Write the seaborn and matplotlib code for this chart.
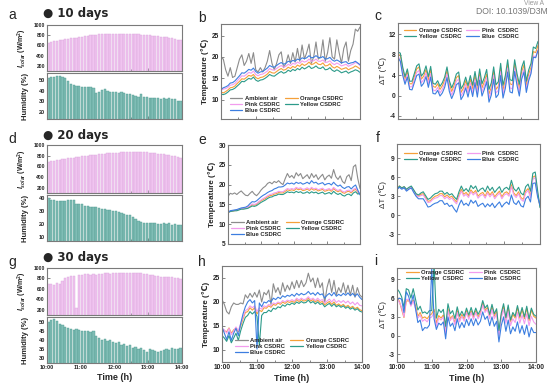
import matplotlib
matplotlib.use("Agg")
import matplotlib.pyplot as plt
from matplotlib.lines import Line2D
import numpy as np
import seaborn as sns

sns.set_theme(style="white")
plt.rcParams["font.family"] = ["Liberation Sans", "DejaVu Sans"]
plt.rcParams["mathtext.fontset"] = "custom"
plt.rcParams["mathtext.rm"] = "Liberation Sans:bold"
plt.rcParams["mathtext.it"] = "Liberation Sans:italic:bold"
plt.rcParams["mathtext.bf"] = "Liberation Sans:bold"

# ---------------- data ----------------
# time stamps (h): lines every 4 min, bars every 5 min
t_line = np.linspace(10, 14, 61)
t_bar = 10 + (np.arange(48) + 0.5) / 12
hour_labels = ["10:00", "11:00", "12:00", "13:00", "14:00"]

# 10 days
solar_10 = [640, 665, 680, 690, 700, 712, 722, 732, 740, 748, 755, 762, 770, 778, 790, 800,
            808, 812, 815, 816, 818, 820, 822, 825, 825, 822, 820, 818, 815, 815, 818, 820,
            815, 810, 805, 800, 795, 790, 785, 780, 772, 765, 758, 750, 740, 728, 715, 700]
hum_10 = [51, 52, 52.5, 53, 53, 52.5, 51.5, 49, 46, 45, 44, 44.5, 43.5, 43.5, 43, 43,
          42, 38, 39, 40.5, 41, 40, 39, 38.5, 39, 38, 38.5, 37.5, 37, 36.5, 36, 35,
          34.5, 36.5, 34, 34, 33, 33.5, 33, 33, 32.5, 33, 32, 33, 32, 32.5, 30.5, 30]
amb_10 = [19.8, 19.5, 17.0, 15.5, 17.5, 15.2, 15.5, 17.5, 19.5, 20.5,
          18.0, 19.0, 20.8, 18.5, 21.0, 17.0, 16.5, 17.5, 16.5, 17.5,
          19.0, 21.5, 18.5, 17.0, 18.5, 20.5, 21.2, 17.5, 18.5, 20.5,
          18.5, 21.0, 18.8, 22.0, 19.0, 22.8, 19.5, 21.0, 23.0, 18.5,
          20.0, 23.5, 19.5, 20.0, 24.0, 19.0, 21.0, 24.5, 20.0, 19.5,
          24.0, 21.0, 18.5, 22.0, 23.5, 19.0, 21.5, 23.0, 26.5, 26.0,
          27.0]
blue_10 = [12.4, 12.8, 13.0, 13.3, 13.9, 14.0, 14.4, 15.0, 15.6, 16.3,
           16.2, 16.6, 17.1, 16.9, 17.4, 16.6, 16.2, 16.5, 16.6, 17.0,
           17.4, 18.0, 17.7, 17.6, 18.0, 18.4, 18.7, 18.3, 18.5, 19.0,
           18.8, 19.2, 19.0, 19.5, 19.3, 19.8, 19.6, 19.8, 20.3, 19.8,
           19.9, 20.3, 19.9, 19.8, 20.1, 19.5, 19.6, 19.9, 19.3, 19.0,
           19.3, 19.0, 18.6, 18.8, 18.9, 18.4, 18.6, 18.7, 19.0, 18.6,
           18.2]
pink_10 = [12.2, 12.5, 12.6, 12.9, 13.4, 13.5, 13.8, 14.4, 15.0, 15.6,
           15.5, 15.9, 16.4, 16.2, 16.7, 15.9, 15.6, 15.9, 16.0, 16.3,
           16.7, 17.3, 17.0, 16.9, 17.3, 17.7, 18.0, 17.6, 17.8, 18.3,
           18.0, 18.5, 18.3, 18.8, 18.5, 19.1, 18.8, 19.0, 19.5, 19.0,
           19.1, 19.5, 19.0, 19.0, 19.3, 18.7, 18.8, 19.1, 18.5, 18.2,
           18.6, 18.3, 17.9, 18.1, 18.3, 17.8, 18.1, 18.3, 18.7, 18.5,
           18.0]
orange_10 = [11.8, 11.6, 11.9, 12.3, 12.8, 12.9, 13.2, 13.8, 14.3, 14.9,
             14.8, 15.2, 15.7, 15.5, 15.9, 15.2, 14.9, 15.2, 15.3, 15.6,
             16.0, 16.6, 16.3, 16.2, 16.6, 17.0, 17.3, 16.9, 17.1, 17.6,
             17.3, 17.8, 17.5, 18.1, 17.8, 18.4, 18.0, 18.3, 18.8, 18.2,
             18.4, 18.8, 18.3, 18.2, 18.6, 17.9, 18.0, 18.4, 17.7, 17.4,
             17.8, 17.5, 17.1, 17.3, 17.5, 17.0, 17.3, 17.5, 17.9, 17.6,
             17.2]
yellow_10 = [11.3, 11.2, 11.4, 11.8, 12.3, 12.4, 12.7, 13.2, 13.7, 14.3,
             14.2, 14.6, 15.0, 14.8, 15.3, 14.6, 14.3, 14.6, 14.7, 15.0,
             15.4, 15.9, 15.6, 15.5, 15.9, 16.3, 16.6, 16.2, 16.4, 16.9,
             16.6, 17.1, 16.8, 17.3, 17.0, 17.6, 17.2, 17.5, 17.9, 17.3,
             17.5, 17.9, 17.4, 17.3, 17.7, 17.0, 17.1, 17.5, 16.9, 16.6,
             17.0, 16.7, 16.3, 16.5, 16.7, 16.2, 16.5, 16.7, 17.0, 16.8,
             16.4]

# 20 days
solar_20 = [690, 695, 705, 715, 722, 730, 740, 750, 758, 765, 772, 780, 788, 795, 800, 808,
            815, 820, 828, 835, 840, 845, 850, 852, 855, 858, 862, 870, 878, 875, 872, 872,
            870, 868, 865, 860, 855, 850, 845, 840, 832, 825, 815, 805, 795, 785, 770, 755]
hum_20 = [40, 38.5, 38, 37.5, 37.5, 37.5, 37.5, 38, 38.5, 38.5, 35, 35.5, 35, 34, 33.5, 33,
          33, 32.5, 32, 31.5, 31, 30.5, 30.5, 30, 29.5, 29, 28.5, 27.5, 27, 26.5, 25, 23.5,
          22, 21.5, 21, 21, 21, 20.5, 20.5, 20, 20, 20.5, 20, 20.5, 19.5, 20, 19.5, 19.5]
amb_20 = [17.0, 17.8, 17.6, 17.9, 17.5, 18.0, 18.4, 17.8, 17.3, 17.2,
          17.8, 18.3, 17.6, 17.2, 17.8, 18.6, 19.2, 19.6, 20.3, 20.6,
          20.2, 20.8, 20.5, 21.0, 20.4, 20.0, 21.5, 22.8, 21.8, 22.3,
          21.6, 23.0, 22.2, 22.8, 21.5, 22.0, 22.5, 21.5, 22.8, 21.8,
          22.5, 21.3, 22.0, 22.6, 21.2, 22.0, 22.4, 21.6, 23.8, 22.0,
          21.3, 22.2, 20.8, 20.3, 22.0, 22.5, 21.0, 24.5, 25.0, 21.5,
          19.0]
blue_20 = [12.9, 13.4, 13.5, 13.6, 13.7, 13.9, 14.1, 14.2, 14.3, 14.6,
           15.2, 15.7, 15.6, 15.9, 16.4, 16.9, 17.3, 17.6, 18.0, 18.3,
           18.5, 18.9, 19.1, 19.4, 19.4, 19.5, 19.9, 20.4, 20.2, 20.4,
           20.1, 20.6, 20.3, 20.5, 20.1, 20.3, 20.6, 20.2, 21.0, 20.4,
           20.6, 20.1, 20.3, 20.5, 19.9, 20.2, 20.3, 19.9, 20.6, 20.0,
           19.6, 19.9, 19.3, 19.0, 19.4, 19.5, 18.9, 19.5, 19.9, 18.6,
           17.4]
pink_20 = [13.0, 13.3, 13.4, 13.5, 13.6, 13.8, 14.0, 14.0, 14.1, 14.3,
           14.7, 15.1, 15.0, 15.2, 15.7, 16.1, 16.5, 16.8, 17.2, 17.5,
           17.6, 17.9, 18.0, 18.3, 18.2, 18.2, 18.6, 19.0, 18.8, 19.0,
           18.8, 19.3, 19.0, 19.2, 18.8, 18.9, 19.2, 18.8, 19.3, 18.9,
           19.1, 18.7, 18.9, 19.1, 18.6, 18.8, 19.0, 18.6, 19.3, 18.8,
           18.5, 18.8, 18.3, 18.1, 18.5, 18.6, 18.2, 18.8, 19.1, 18.3,
           17.5]
orange_20 = [12.9, 13.2, 13.3, 13.4, 13.5, 13.7, 13.9, 13.9, 14.0, 14.2,
             14.5, 14.9, 14.8, 15.0, 15.5, 15.9, 16.2, 16.5, 16.9, 17.2,
             17.3, 17.6, 17.7, 18.0, 17.9, 17.9, 18.3, 18.7, 18.5, 18.7,
             18.5, 19.0, 18.7, 18.9, 18.5, 18.6, 18.9, 18.5, 19.0, 18.6,
             18.8, 18.4, 18.6, 18.8, 18.3, 18.5, 18.7, 18.3, 19.0, 18.5,
             18.2, 18.5, 18.0, 17.8, 18.2, 18.3, 17.9, 18.5, 18.8, 18.1,
             17.6]
yellow_20 = [13.0, 13.2, 13.3, 13.4, 13.4, 13.6, 13.8, 13.8, 13.9, 14.0,
             14.3, 14.6, 14.5, 14.7, 15.1, 15.5, 15.8, 16.1, 16.5, 16.8,
             16.9, 17.2, 17.3, 17.6, 17.5, 17.5, 17.8, 18.2, 18.0, 18.1,
             17.9, 18.3, 18.0, 18.2, 17.8, 17.9, 18.2, 17.8, 18.2, 17.9,
             18.1, 17.7, 17.9, 18.1, 17.6, 17.8, 18.0, 17.6, 18.3, 17.8,
             17.5, 17.8, 17.3, 17.1, 17.5, 17.6, 17.2, 17.9, 18.2, 17.6,
             17.8]

# 30 days
solar_30 = [690, 700, 680, 720, 700, 750, 810, 830, 840, 855, 230, 860, 870, 885, 880, 870,
            880, 875, 885, 890, 895, 895, 890, 895, 900, 900, 895, 900, 895, 900, 905, 905,
            900, 895, 890, 880, 870, 860, 850, 840, 835, 830, 825, 825, 820, 815, 800, 780]
hum_30 = [49.5, 51, 51.5, 50.5, 48.5, 48, 47, 46.5, 46, 45.5, 46, 45.5, 45, 44.5, 44.5, 44,
          45, 42, 41, 40, 40.5, 39, 40, 38.5, 38, 38.5, 37, 37.5, 36.5, 37, 35.5, 36,
          34.5, 35.5, 34, 33, 35, 34, 33.5, 33, 33.5, 34, 35, 34, 35.5, 34.5, 35, 35.5]
amb_30 = [20.5, 19.5, 18.0, 17.5, 19.0, 19.8, 19.5, 19.5, 19.8, 19.6,
          21.5, 20.8, 21.8, 21.0, 22.0, 21.0, 22.5, 20.0, 22.0, 21.5,
          22.5, 19.5, 23.8, 22.0, 23.0, 21.5, 24.0, 22.2, 23.5, 22.5,
          24.2, 22.8, 24.5, 23.0, 24.5, 23.2, 24.0, 26.0, 24.2, 25.0,
          23.0, 25.0, 23.0, 24.0, 19.8, 23.0, 24.8, 22.0, 24.5, 21.5,
          23.0, 22.0, 24.0, 21.8, 23.5, 21.5, 23.5, 21.0, 23.0, 21.5,
          21.0]
blue_30 = [14.8, 13.5, 12.2, 13.8, 12.0, 13.5, 14.5, 13.0, 15.5, 17.5,
           19.0, 20.0, 20.5, 19.8, 20.3, 10.2, 19.8, 19.0, 20.0, 19.8,
           20.3, 20.0, 20.8, 20.5, 21.0, 20.7, 21.3, 21.0, 21.4, 21.2,
           21.6, 21.2, 21.8, 21.4, 21.8, 21.5, 21.7, 22.2, 21.6, 21.9,
           21.4, 22.0, 21.5, 21.7, 20.8, 21.4, 21.8, 21.3, 22.0, 21.2,
           21.6, 21.3, 21.8, 21.4, 21.9, 21.3, 21.8, 21.2, 21.7, 21.0,
           20.5]
pink_30 = [14.5, 14.2, 13.5, 14.5, 13.2, 14.0, 14.8, 14.0, 15.5, 16.8,
           18.2, 18.5, 19.2, 18.8, 19.2, 18.0, 18.8, 18.5, 19.2, 19.0,
           19.5, 19.2, 19.8, 19.6, 20.0, 19.8, 20.3, 20.0, 20.4, 20.2,
           20.5, 20.2, 20.8, 20.4, 20.8, 20.5, 20.6, 21.1, 20.5, 20.8,
           20.3, 20.8, 20.3, 20.5, 19.8, 20.2, 20.6, 20.0, 20.6, 19.9,
           20.3, 19.9, 20.3, 19.8, 20.2, 19.6, 20.0, 19.4, 19.9, 19.3,
           19.2]
orange_30 = [14.2, 14.0, 13.8, 14.6, 13.5, 14.2, 14.5, 13.8, 15.0, 16.5,
             17.8, 18.0, 18.8, 18.3, 18.8, 17.5, 18.3, 18.0, 18.8, 18.7,
             19.2, 18.9, 19.5, 19.3, 19.8, 19.5, 20.0, 19.7, 20.1, 19.9,
             20.2, 19.9, 20.5, 20.1, 20.5, 20.2, 20.3, 20.8, 20.2, 20.5,
             20.0, 20.4, 19.9, 20.1, 19.4, 19.8, 20.1, 19.5, 20.0, 19.3,
             19.6, 19.2, 19.5, 19.0, 19.3, 18.8, 19.1, 18.6, 18.9, 18.4,
             18.2]
yellow_30 = [13.0, 12.5, 11.8, 13.0, 11.5, 12.5, 13.5, 12.0, 14.0, 15.5,
             16.8, 17.2, 18.0, 17.5, 18.0, 17.0, 11.0, 17.2, 17.8, 17.8,
             18.3, 18.0, 18.7, 18.5, 19.0, 18.8, 19.4, 19.1, 19.6, 19.4,
             19.8, 19.5, 20.0, 19.7, 20.1, 19.8, 19.9, 20.4, 19.8, 20.1,
             19.6, 20.0, 19.5, 19.7, 19.0, 19.4, 19.7, 19.1, 19.6, 19.0,
             19.3, 18.9, 19.2, 18.7, 19.0, 18.5, 18.8, 18.3, 18.6, 18.1,
             17.9]

# ---------------- style ----------------
AMB = "#8c8c8c"
ORANGE = "#f5a03a"
PINK = "#f29cee"
YELLOW = "#2d9b8a"
BLUE = "#3c7ee0"
SOLAR_C, SOLAR_E = "#f0c4f0", "#d9a6dc"
HUM_C, HUM_E = "#7fbdb5", "#4f9a90"

W, H = 553, 392
fig = plt.figure(figsize=(W / 100, H / 100), dpi=100)


def box(l, t, r, b):
    return fig.add_axes([l / W, 1 - b / H, (r - l) / W, (b - t) / H])


def handle(col):
    return Line2D([], [], color=col, lw=0.9)


def frame(ax, ylim, yticks, xlabels=False, size=4.5):
    ax.set_xlim(10, 14)
    ax.set_ylim(*ylim)
    ax.set_yticks(yticks)
    ax.set_xticks([10, 11, 12, 13, 14])
    ax.set_xticks(np.arange(10, 14.01, 0.5), minor=True)
    ax.set_xticklabels(hour_labels if xlabels else [])
    ax.set_yticklabels([str(v) for v in yticks])
    ax.set_xlabel("")
    ax.set_ylabel("")
    for s in ax.spines.values():
        s.set_visible(True)
        s.set_color("#7a7a7a")
        s.set_linewidth(0.8)
    ax.tick_params(which="both", direction="in", bottom=True, left=True,
                   color="#555555", width=0.5, labelsize=size, pad=1.5)
    ax.tick_params(which="major", length=2)
    ax.tick_params(which="minor", length=1.2)
    for lab in ax.get_xticklabels() + ax.get_yticklabels():
        lab.set_fontweight("bold")


def weather(top, solar, hum, hum_lim, hum_ticks, xlabels):
    ax1 = box(47, top[0], 182, top[1])
    sns.barplot(x=t_bar, y=solar, native_scale=True, orient="x", width=0.78,
                color=SOLAR_C, edgecolor=SOLAR_E, linewidth=0.3, saturation=1,
                errorbar=None, ax=ax1)
    frame(ax1, (100, 1000), [200, 400, 600, 800, 1000], size=3.6)
    ax1.set_ylabel(r"$I_{solar}$ (W/m$^2$)", fontsize=5, fontweight="bold", labelpad=1.5)

    ax2 = box(47, top[2], 182, top[3])
    sns.barplot(x=t_bar, y=hum, native_scale=True, orient="x", width=0.78,
                color=HUM_C, edgecolor=HUM_E, linewidth=0.3, saturation=1,
                errorbar=None, ax=ax2)
    frame(ax2, hum_lim, hum_ticks, xlabels=xlabels, size=4)
    ax2.set_ylabel("Humidity (%)", fontsize=5.5, fontweight="bold", labelpad=2)
    ax1.yaxis.set_label_coords(-0.13, 0.5)
    ax2.yaxis.set_label_coords(-0.13, 0.5)
    return ax2


def temps(pos, amb, orange, pink, yellow, blue, ylim, yticks, leg_anchor, xlabels):
    ax = box(*pos)
    for vals, col in [(amb, AMB), (orange, ORANGE), (pink, PINK), (yellow, YELLOW), (blue, BLUE)]:
        sns.lineplot(x=t_line, y=vals, color=col, lw=0.8, ax=ax)
    frame(ax, ylim, yticks, xlabels=xlabels, size=4.8)
    ax.set_ylabel("Temperature (\u2103)", fontsize=5.8, fontweight="bold", labelpad=1.5)
    ax.legend([handle(AMB), handle(PINK), handle(BLUE), handle(ORANGE), handle(YELLOW)],
              ["Ambient air", "Pink CSDRC", "Blue CSDRC", "Orange CSDRC", "Yellow CSDRC"],
              ncol=2, loc="lower center", bbox_to_anchor=leg_anchor, frameon=False,
              prop={"size": 4.2, "weight": "bold"}, handlelength=2.2,
              columnspacing=0.8, labelspacing=0.15, handletextpad=0.4, borderpad=0.2)
    return ax


def deltas(pos, amb, orange, pink, yellow, blue, ylim, yticks, leg_anchor, xlabels):
    ax = box(*pos)
    amb = np.array(amb)
    for vals, col in [(orange, ORANGE), (pink, PINK), (yellow, YELLOW), (blue, BLUE)]:
        sns.lineplot(x=t_line, y=amb - np.array(vals), color=col, lw=0.8, ax=ax)
    frame(ax, ylim, yticks, xlabels=xlabels, size=4.8)
    ax.set_ylabel("\u0394T (\u2103)", fontsize=5.8, labelpad=1.5)
    ax.legend([handle(ORANGE), handle(YELLOW), handle(PINK), handle(BLUE)],
              ["Orange CSDRC", "Yellow  CSDRC", "Pink  CSDRC", "Blue  CSDRC"],
              ncol=2, loc="upper center", bbox_to_anchor=leg_anchor, frameon=False,
              prop={"size": 4.2, "weight": "bold"}, handlelength=2.2,
              columnspacing=0.8, labelspacing=0.15, handletextpad=0.4, borderpad=0.2)
    return ax


# row 1 - 10 days
weather((25, 71, 73, 119), solar_10, hum_10, (14, 56), [20, 30, 40, 50], False)
temps((221, 24, 360, 119), amb_10, orange_10, pink_10, yellow_10, blue_10,
      (5.5, 27.7), [10, 15, 20, 25], (0.47, 0.02), False)
deltas((398, 23, 538, 119), amb_10, orange_10, pink_10, yellow_10, blue_10,
       (-4.6, 14.2), [-4, 0, 4, 8, 12], (0.45, 0.99), False)

# row 2 - 20 days
weather((145, 193, 195, 241), solar_20, hum_20, (7, 42), [10, 20, 30, 40], False)
temps((228, 145, 360, 244), amb_20, orange_20, pink_20, yellow_20, blue_20,
      (5, 30), [5, 10, 15, 20, 25, 30], (0.45, 0.03), False)
deltas((397, 144, 540, 244), amb_20, orange_20, pink_20, yellow_20, blue_20,
       (-4.5, 11.2), [-3, 0, 3, 6, 9], (0.45, 0.97), False)

# row 3 - 30 days
axg = weather((268, 315, 317, 363), solar_30, hum_30, (27, 52.5), [30, 35, 40, 45, 50], True)
axh = temps((222, 266, 362, 362), amb_30, orange_30, pink_30, yellow_30, blue_30,
            (7.5, 27.5), [10, 15, 20, 25], (0.5, 0.03), True)
axi = deltas((397, 268, 536, 362), amb_30, orange_30, pink_30, yellow_30, blue_30,
             (-4.2, 10.8), [-3, 0, 3, 6, 9], (0.48, 1.02), True)
for ax in (axg, axh, axi):
    ax.set_xlabel("Time (h)", fontsize=6.5, fontweight="bold", labelpad=2)

# panel letters and titles
for x, y, s in [(12, 15, "a"), (202, 18, "b"), (378, 16, "c"),
                (12, 139, "d"), (202, 140, "e"), (378, 138, "f"),
                (12, 262, "g"), (202, 262, "h"), (376, 261, "i")]:
    fig.text(x / W, 1 - y / H, s, fontsize=10, ha="center", va="center")
for y, s in [(13, "\u25cf 10 days"), (135, "\u25cf 20 days"), (258, "\u25cf 30 days")]:
    fig.text(43 / W, 1 - y / H, s, fontsize=8.5, fontweight="bold", va="center",
             family=["DejaVu Sans"])

fig.text(476 / W, 1 - 11.5 / H, "DOI: 10.1039/D3M", fontsize=6.2, color="#777777", va="center")
fig.text(524 / W, 1 - 0.3 / H, "View A", fontsize=4.8, color="#999999", va="top")

plt.savefig("out.png", dpi=100)
